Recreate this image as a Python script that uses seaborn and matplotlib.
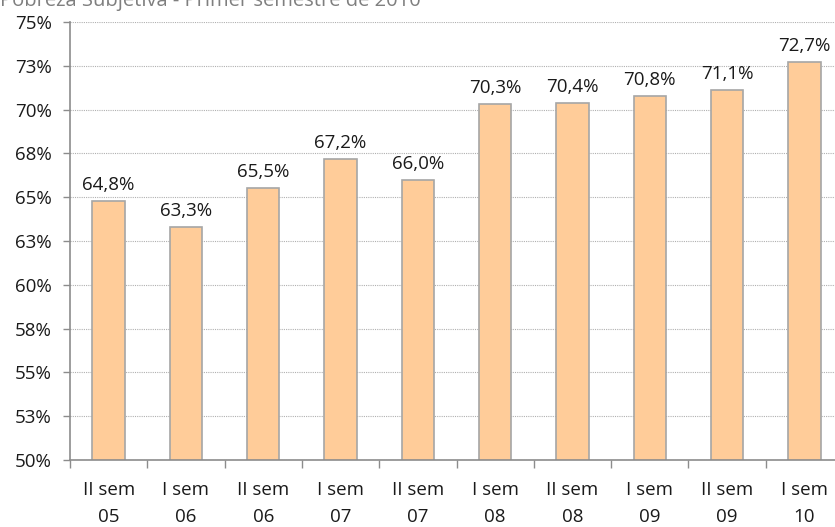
import matplotlib
matplotlib.use("Agg")
import matplotlib.pyplot as plt
import seaborn as sns
import pandas as pd
import numpy as np

categories = ["II sem\n05", "I sem\n06", "II sem\n06", "I sem\n07", "II sem\n07",
              "I sem\n08", "II sem\n08", "I sem\n09", "II sem\n09", "I sem\n10"]
values = [64.8, 63.3, 65.5, 67.2, 66.0, 70.3, 70.4, 70.8, 71.1, 72.7]
value_labels = ["64,8%", "63,3%", "65,5%", "67,2%", "66,0%",
                "70,3%", "70,4%", "70,8%", "71,1%", "72,7%"]
ytick_values = [50, 52.5, 55, 57.5, 60, 62.5, 65, 67.5, 70, 72.5, 75]
ytick_labels = ["50%", "53%", "55%", "58%", "60%", "63%", "65%", "68%", "70%", "73%", "75%"]
title = "Pobreza Subjetiva - Primer semestre de 2010"

sns.set_theme(style="white")
plt.rcParams['font.family'] = ['Open Sans', 'DejaVu Sans']

df = pd.DataFrame({"cat": categories, "val": values})

fig = plt.figure(figsize=(8.35, 5.27), dpi=100)
W, H = 835, 527
left, right, top, bottom = 70, 843, 22, 460
ax = fig.add_axes([left / W, 1 - bottom / H, (right - left) / W, (bottom - top) / H])

sns.barplot(data=df, x="cat", y="val", ax=ax, color="#FFCC99", width=0.42,
            edgecolor="#A6A6A6", linewidth=1.2, saturation=1, bottom=0)

fs = 13.5
ax.set_ylim(50, 75)
ax.set_xlim(-0.5, len(categories) - 0.5)
ax.set_yticks(ytick_values)
ax.set_yticklabels(ytick_labels, fontsize=fs, color="#1a1a1a")
ax.set_xticks(range(len(categories)))
ax.set_xticklabels(categories, fontsize=fs, color="#1a1a1a", linespacing=1.65)
ax.tick_params(axis="x", length=0, pad=15)
ax.tick_params(axis="y", length=5, width=1, color="#8c8c8c", direction="out", left=True, pad=8)

# minor ticks between categories on x-axis
ax.set_xticks(np.arange(-0.5, len(categories), 1.0), minor=True)
ax.tick_params(axis="x", which="minor", length=6, width=1, color="#8c8c8c", bottom=True, direction="out")

ax.set_xlabel("")
ax.set_ylabel("")
ax.grid(axis="y", linestyle=(0, (1, 1)), color="#b0b0b0", linewidth=0.8)
ax.set_axisbelow(True)
for s in ["top", "right"]:
    ax.spines[s].set_visible(False)
for s in ["left", "bottom"]:
    ax.spines[s].set_color("#8c8c8c")
    ax.spines[s].set_linewidth(1.2)

for i, (v, lab) in enumerate(zip(values, value_labels)):
    ax.annotate(lab, (i, v), xytext=(0, 5), textcoords="offset points",
                ha="center", va="bottom", fontsize=fs, color="#1a1a1a")

fig.text(0.0, 1 - 6 / H, title, ha="left", va="baseline", fontsize=14.5,
         color="#7f7f7f")

fig.savefig("out.png", dpi=100)
